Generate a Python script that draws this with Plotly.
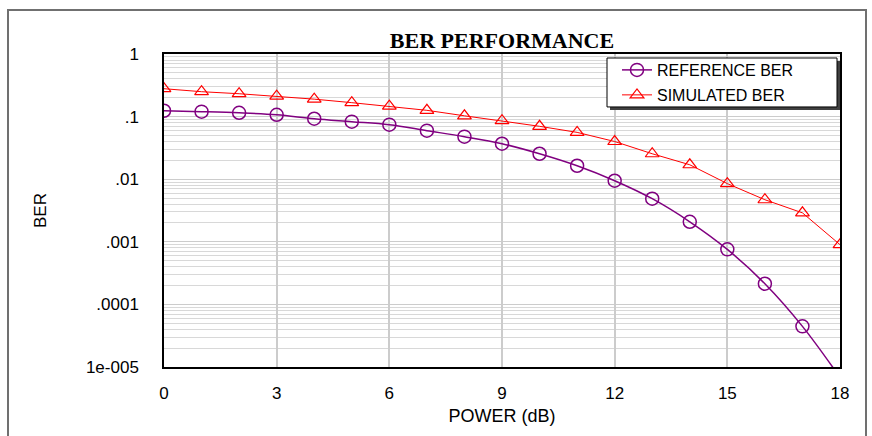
import plotly.graph_objects as go

power_db = list(range(0, 19))
reference_ber = [0.124, 0.120, 0.115, 0.107, 0.0925, 0.083, 0.0743, 0.0596, 0.0478, 0.0369,
                 0.0255, 0.0164, 0.00946, 0.00488, 0.00209, 0.000757, 0.000214, 4.46e-5, 6.8e-6]
simulated_ber = [0.279, 0.250, 0.232, 0.212, 0.190, 0.167, 0.147, 0.126, 0.103, 0.086,
                 0.070, 0.056, 0.040, 0.0255, 0.0170, 0.0085, 0.0047, 0.0029, 0.0009]
y_tickvals = [1, 0.1, 0.01, 0.001, 0.0001, 0.00001]
y_ticktext = ["1", ".1", ".01", ".001", ".0001", "1e-005"]
x_tickvals = [0, 3, 6, 9, 12, 15, 18]

# plot area in pixels
L, R, T, B = 164, 840, 54, 367.3
W, H = R - L, B - T


def px_x(p):
    return (p - L) / W


def px_y(p):
    return (B - p) / H


fig = go.Figure()
fig.add_trace(go.Scatter(
    x=power_db, y=reference_ber, name="REFERENCE BER", mode="lines+markers",
    line=dict(color="#800080", width=1.5, shape="spline"),
    marker=dict(symbol="circle-open", size=13, color="#800080", line=dict(width=1.5)),
    legend="legend",
))
fig.add_trace(go.Scatter(
    x=power_db, y=simulated_ber, name="SIMULATED BER", mode="lines+markers",
    line=dict(color="#ff0000", width=1),
    marker=dict(symbol="triangle-up-open", size=12, color="#ff0000", line=dict(width=1.2)),
    legend="legend2",
))

leg_common = dict(xanchor="left", yanchor="middle", bgcolor="rgba(0,0,0,0)", borderwidth=0,
                  font=dict(size=16, family="Liberation Sans, Arial", color="black"))

fig.update_layout(
    width=872, height=436,
    margin=dict(l=L, r=872 - R, t=T, b=436 - B),
    paper_bgcolor="white", plot_bgcolor="white",
    font=dict(family="Liberation Sans, Arial", size=17, color="black"),
    title=dict(text="<b>BER PERFORMANCE</b>", x=502 / 872, xanchor="center",
               y=1 - 40 / 436, yanchor="middle",
               font=dict(family="Liberation Serif, Times New Roman", size=22, color="black")),
    showlegend=True,
    legend=dict(x=px_x(617), y=px_y(70), **leg_common),
    legend2=dict(x=px_x(617), y=px_y(95), **leg_common),
    shapes=[
        dict(type="rect", xref="paper", yref="paper", x0=-156 / W, x1=(866 - L) / W,
             y0=-1, y1=1 + (T - 10) / H, line=dict(color="#707070", width=2),
             fillcolor="rgba(0,0,0,0)", layer="below"),
        # legend shadow
        dict(type="rect", xref="paper", yref="paper", x0=px_x(610), x1=px_x(840),
             y0=px_y(110), y1=px_y(61), line=dict(width=0), fillcolor="#404040", layer="above"),
        # legend box
        dict(type="rect", xref="paper", yref="paper", x0=px_x(607), x1=px_x(837),
             y0=px_y(107), y1=px_y(58), line=dict(color="black", width=1), fillcolor="white",
             layer="above"),
    ],
)
fig.update_xaxes(
    range=[0, 18], tickvals=x_tickvals, showgrid=True, gridcolor="#cccccc", gridwidth=1.5,
    zeroline=False, showline=True, linecolor="black", linewidth=1.5, mirror=True,
    ticks="", ticklabelstandoff=10,
    title=dict(text="POWER (dB)", standoff=7, font=dict(size=18)),
)
fig.update_yaxes(
    type="log", range=[-5, 0], tickvals=y_tickvals, ticktext=y_ticktext,
    showgrid=True, gridcolor="#cccccc", gridwidth=1,
    minor=dict(dtick="D1", showgrid=True, gridcolor="#d8d8d8", ticks=""),
    showline=True, linecolor="black", linewidth=1.5, mirror=True,
    ticks="", ticklabelstandoff=20,
    title=dict(text="BER", standoff=35, font=dict(size=17)),
)
fig.write_html("out.html")
